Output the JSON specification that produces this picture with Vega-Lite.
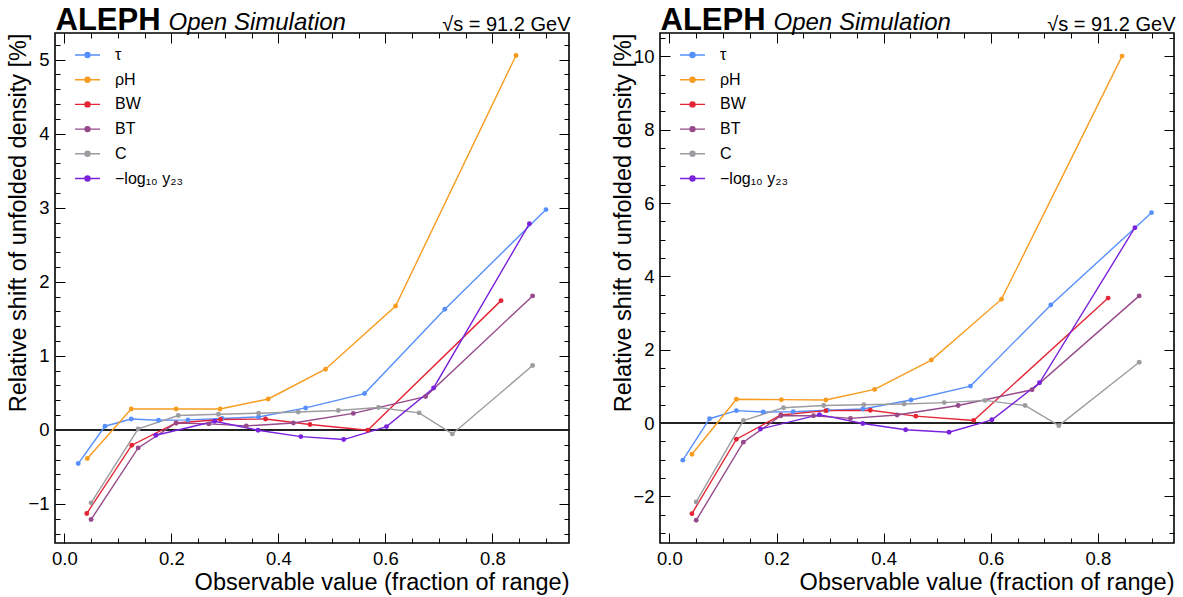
{
  "$schema": "https://vega.github.io/schema/vega-lite/v6.json",
  "padding": {"left": 5, "top": 4, "right": 5, "bottom": 2},
  "background": "white",
  "config": {
    "font": "Liberation Sans",
    "view": {"stroke": "#000", "strokeWidth": 1.6},
    "axis": {"domain": false, "grid": false, "tickColor": "#000", "tickWidth": 1, "labelColor": "#000", "titleColor": "#000", "labelFont": "Liberation Sans", "titleFont": "Liberation Sans", "labelFontSize": 18.5, "titleFontSize": 23.5, "titleFontWeight": "normal", "labelOverlap": false, "labelFlush": false},
    "legend": {"title": null, "orient": "none", "legendX": 19, "legendY": 8.5, "padding": 0, "labelFontSize": 16, "labelFont": "Liberation Sans", "labelColor": "#000", "symbolType": "M-1,0H1M-0.2,0A0.2,0.2 0 1,0 0.2,0A0.2,0.2 0 1,0 -0.2,0", "symbolSize": 625, "symbolStrokeWidth": 1.4, "labelOffset": 14, "rowPadding": 2.7}
  },
  "datasets": {
    "left": [
      {"s": "τ", "x": 0.026, "y": -0.454}, {"s": "τ", "x": 0.076, "y": 0.05}, {"s": "τ", "x": 0.125, "y": 0.148}, {"s": "τ", "x": 0.176, "y": 0.131}, {"s": "τ", "x": 0.231, "y": 0.135}, {"s": "τ", "x": 0.295, "y": 0.155}, {"s": "τ", "x": 0.363, "y": 0.175}, {"s": "τ", "x": 0.451, "y": 0.297}, {"s": "τ", "x": 0.561, "y": 0.491}, {"s": "τ", "x": 0.711, "y": 1.63}, {"s": "τ", "x": 0.9, "y": 2.975},
      {"s": "ρH", "x": 0.043, "y": -0.386}, {"s": "ρH", "x": 0.125, "y": 0.283}, {"s": "ρH", "x": 0.209, "y": 0.283}, {"s": "ρH", "x": 0.291, "y": 0.283}, {"s": "ρH", "x": 0.381, "y": 0.418}, {"s": "ρH", "x": 0.488, "y": 0.82}, {"s": "ρH", "x": 0.619, "y": 1.673}, {"s": "ρH", "x": 0.844, "y": 5.057},
      {"s": "BW", "x": 0.042, "y": -1.128}, {"s": "BW", "x": 0.126, "y": -0.206}, {"s": "BW", "x": 0.209, "y": 0.094}, {"s": "BW", "x": 0.292, "y": 0.14}, {"s": "BW", "x": 0.376, "y": 0.148}, {"s": "BW", "x": 0.459, "y": 0.073}, {"s": "BW", "x": 0.567, "y": -0.004}, {"s": "BW", "x": 0.816, "y": 1.746},
      {"s": "BT", "x": 0.05, "y": -1.21}, {"s": "BT", "x": 0.138, "y": -0.243}, {"s": "BT", "x": 0.209, "y": 0.094}, {"s": "BT", "x": 0.27, "y": 0.081}, {"s": "BT", "x": 0.34, "y": 0.054}, {"s": "BT", "x": 0.428, "y": 0.094}, {"s": "BT", "x": 0.54, "y": 0.223}, {"s": "BT", "x": 0.675, "y": 0.45}, {"s": "BT", "x": 0.875, "y": 1.81},
      {"s": "C", "x": 0.05, "y": -0.985}, {"s": "C", "x": 0.138, "y": 0.013}, {"s": "C", "x": 0.213, "y": 0.194}, {"s": "C", "x": 0.288, "y": 0.212}, {"s": "C", "x": 0.363, "y": 0.225}, {"s": "C", "x": 0.437, "y": 0.243}, {"s": "C", "x": 0.512, "y": 0.262}, {"s": "C", "x": 0.587, "y": 0.302}, {"s": "C", "x": 0.663, "y": 0.23}, {"s": "C", "x": 0.725, "y": -0.054}, {"s": "C", "x": 0.875, "y": 0.869},
      {"s": "−log₁₀ y₂₃", "x": 0.171, "y": -0.072}, {"s": "−log₁₀ y₂₃", "x": 0.281, "y": 0.117}, {"s": "−log₁₀ y₂₃", "x": 0.362, "y": -0.004}, {"s": "−log₁₀ y₂₃", "x": 0.442, "y": -0.09}, {"s": "−log₁₀ y₂₃", "x": 0.522, "y": -0.13}, {"s": "−log₁₀ y₂₃", "x": 0.602, "y": 0.045}, {"s": "−log₁₀ y₂₃", "x": 0.69, "y": 0.567}, {"s": "−log₁₀ y₂₃", "x": 0.869, "y": 2.785}
    ],
    "right": [
      {"s": "τ", "x": 0.025, "y": -1.01}, {"s": "τ", "x": 0.075, "y": 0.12}, {"s": "τ", "x": 0.125, "y": 0.34}, {"s": "τ", "x": 0.175, "y": 0.305}, {"s": "τ", "x": 0.231, "y": 0.31}, {"s": "τ", "x": 0.295, "y": 0.35}, {"s": "τ", "x": 0.361, "y": 0.385}, {"s": "τ", "x": 0.451, "y": 0.63}, {"s": "τ", "x": 0.562, "y": 1.01}, {"s": "τ", "x": 0.712, "y": 3.22}, {"s": "τ", "x": 0.9, "y": 5.74},
      {"s": "ρH", "x": 0.042, "y": -0.85}, {"s": "ρH", "x": 0.125, "y": 0.65}, {"s": "ρH", "x": 0.209, "y": 0.64}, {"s": "ρH", "x": 0.292, "y": 0.63}, {"s": "ρH", "x": 0.383, "y": 0.92}, {"s": "ρH", "x": 0.489, "y": 1.72}, {"s": "ρH", "x": 0.62, "y": 3.38}, {"s": "ρH", "x": 0.845, "y": 10.01},
      {"s": "BW", "x": 0.042, "y": -2.47}, {"s": "BW", "x": 0.125, "y": -0.44}, {"s": "BW", "x": 0.208, "y": 0.22}, {"s": "BW", "x": 0.292, "y": 0.34}, {"s": "BW", "x": 0.375, "y": 0.35}, {"s": "BW", "x": 0.46, "y": 0.19}, {"s": "BW", "x": 0.568, "y": 0.07}, {"s": "BW", "x": 0.819, "y": 3.41},
      {"s": "BT", "x": 0.05, "y": -2.65}, {"s": "BT", "x": 0.138, "y": -0.52}, {"s": "BT", "x": 0.208, "y": 0.2}, {"s": "BT", "x": 0.269, "y": 0.2}, {"s": "BT", "x": 0.338, "y": 0.13}, {"s": "BT", "x": 0.425, "y": 0.22}, {"s": "BT", "x": 0.539, "y": 0.48}, {"s": "BT", "x": 0.677, "y": 0.91}, {"s": "BT", "x": 0.877, "y": 3.47},
      {"s": "C", "x": 0.05, "y": -2.15}, {"s": "C", "x": 0.138, "y": 0.07}, {"s": "C", "x": 0.213, "y": 0.42}, {"s": "C", "x": 0.288, "y": 0.48}, {"s": "C", "x": 0.363, "y": 0.5}, {"s": "C", "x": 0.438, "y": 0.52}, {"s": "C", "x": 0.513, "y": 0.56}, {"s": "C", "x": 0.589, "y": 0.62}, {"s": "C", "x": 0.664, "y": 0.48}, {"s": "C", "x": 0.727, "y": -0.07}, {"s": "C", "x": 0.877, "y": 1.66},
      {"s": "−log₁₀ y₂₃", "x": 0.17, "y": -0.16}, {"s": "−log₁₀ y₂₃", "x": 0.28, "y": 0.23}, {"s": "−log₁₀ y₂₃", "x": 0.361, "y": -0.01}, {"s": "−log₁₀ y₂₃", "x": 0.441, "y": -0.18}, {"s": "−log₁₀ y₂₃", "x": 0.522, "y": -0.25}, {"s": "−log₁₀ y₂₃", "x": 0.602, "y": 0.09}, {"s": "−log₁₀ y₂₃", "x": 0.691, "y": 1.1}, {"s": "−log₁₀ y₂₃", "x": 0.869, "y": 5.33}
    ]
  },
  "spacing": 91,
  "bounds": "flush",
  "resolve": {"legend": {"color": "independent"}},
  "hconcat": [
    {
      "width": 514, "height": 510,
      "data": {"name": "left"},
      "resolve": {"axis": {"x": "independent", "y": "independent"}},
      "layer": [
        {
          "mark": {"type": "rule", "color": "#222", "strokeWidth": 1.2},
          "encoding": {"y": {"datum": 0, "type": "quantitative", "scale": {"domain": [-1.527, 5.36], "nice": false, "zero": false}, "axis": null}}
        },
        {
          "mark": {"type": "line", "strokeWidth": 1.4, "point": {"filled": true, "size": 24}},
          "encoding": {
            "x": {"field": "x", "type": "quantitative", "scale": {"domain": [-0.0174, 0.943], "nice": false, "zero": false},
              "axis": {"orient": "bottom", "values": [0,0.05,0.1,0.15,0.2,0.25,0.3,0.35,0.4,0.45,0.5,0.55,0.6,0.65,0.7,0.75,0.8,0.85,0.9],
                "tickSize": {"condition": {"test": "abs(datum.value*5-round(datum.value*5))<0.001", "value": -10}, "value": -5},
                "labelExpr": "abs(datum.value*5-round(datum.value*5))<0.001 ? format(datum.value,'.1f') : ''",
                "labelPadding": 16,
                "title": "Observable value (fraction of range)", "titleX": 514, "titleY": 46, "titleAlign": "right", "titleBaseline": "alphabetic"}},
            "y": {"field": "y", "type": "quantitative", "scale": {"domain": [-1.527, 5.36], "nice": false, "zero": false},
              "axis": {"orient": "left", "values": [-1.4,-1.2,-1,-0.8,-0.6,-0.4,-0.2,0,0.2,0.4,0.6,0.8,1,1.2,1.4,1.6,1.8,2,2.2,2.4,2.6,2.8,3,3.2,3.4,3.6,3.8,4,4.2,4.4,4.6,4.8,5,5.2],
                "tickSize": {"condition": {"test": "abs(datum.value-round(datum.value))<0.001", "value": -10}, "value": -5},
                "labelExpr": "abs(datum.value-round(datum.value))<0.001 ? format(datum.value,'d') : ''",
                "labelPadding": 16,
                "title": "Relative shift of unfolded density [%]", "titleAngle": 270, "titleX": -30, "titleY": 0, "titleAlign": "right", "titleBaseline": "alphabetic"}},
            "color": {"field": "s", "type": "nominal",
              "scale": {"domain": ["τ", "ρH", "BW", "BT", "C", "−log₁₀ y₂₃"], "range": ["#5790fc", "#f89c20", "#e42536", "#964a8b", "#9c9ca1", "#7a21dd"]},
              "legend": {"encode": {"symbols": {"update": {"fill": {"scale": "color", "field": "value"}}}}}}
          }
        },
        {
          "mark": {"type": "point", "opacity": 0},
          "encoding": {
            "x": {"field": "x", "type": "quantitative", "scale": {"domain": [-0.0174, 0.943], "nice": false, "zero": false},
              "axis": {"orient": "top", "values": [0,0.05,0.1,0.15,0.2,0.25,0.3,0.35,0.4,0.45,0.5,0.55,0.6,0.65,0.7,0.75,0.8,0.85,0.9],
                "tickSize": {"condition": {"test": "abs(datum.value*5-round(datum.value*5))<0.001", "value": -10}, "value": -5},
                "labels": false,
                "title": "Open Simulation", "titleFontStyle": "italic", "titleFontSize": 24, "titleX": 113, "titleY": -3.2, "titleAlign": "left", "titleBaseline": "alphabetic"}},
            "y": {"field": "y", "type": "quantitative", "scale": {"domain": [-1.527, 5.36], "nice": false, "zero": false},
              "axis": {"orient": "right", "values": [-1.4,-1.2,-1,-0.8,-0.6,-0.4,-0.2,0,0.2,0.4,0.6,0.8,1,1.2,1.4,1.6,1.8,2,2.2,2.4,2.6,2.8,3,3.2,3.4,3.6,3.8,4,4.2,4.4,4.6,4.8,5,5.2],
                "tickSize": {"condition": {"test": "abs(datum.value-round(datum.value))<0.001", "value": -10}, "value": -5},
                "labels": false,
                "title": "√s = 91.2 GeV", "titleAngle": 0, "titleFontSize": 20, "titleX": 1, "titleY": -2.1, "titleAlign": "right", "titleBaseline": "alphabetic"}}
          }
        },
        {
          "mark": {"type": "point", "opacity": 0},
          "encoding": {
            "x": {"field": "x", "type": "quantitative", "scale": {"domain": [-0.0174, 0.943], "nice": false, "zero": false},
              "axis": {"orient": "top", "ticks": false, "labels": false,
                "title": "ALEPH", "titleFontWeight": "bold", "titleFontSize": 31, "titleX": 0, "titleY": -3.2, "titleAlign": "left", "titleBaseline": "alphabetic"}}
          }
        }
      ]
    },
    {
      "width": 514, "height": 510,
      "data": {"name": "right"},
      "resolve": {"axis": {"x": "independent", "y": "independent"}},
      "layer": [
        {
          "mark": {"type": "rule", "color": "#222", "strokeWidth": 1.2},
          "encoding": {"y": {"datum": 0, "type": "quantitative", "scale": {"domain": [-3.27, 10.64], "nice": false, "zero": false}, "axis": null}}
        },
        {
          "mark": {"type": "line", "strokeWidth": 1.4, "point": {"filled": true, "size": 24}},
          "encoding": {
            "x": {"field": "x", "type": "quantitative", "scale": {"domain": [-0.0176, 0.942], "nice": false, "zero": false},
              "axis": {"orient": "bottom", "values": [0,0.05,0.1,0.15,0.2,0.25,0.3,0.35,0.4,0.45,0.5,0.55,0.6,0.65,0.7,0.75,0.8,0.85,0.9],
                "tickSize": {"condition": {"test": "abs(datum.value*5-round(datum.value*5))<0.001", "value": -10}, "value": -5},
                "labelExpr": "abs(datum.value*5-round(datum.value*5))<0.001 ? format(datum.value,'.1f') : ''",
                "labelPadding": 16,
                "title": "Observable value (fraction of range)", "titleX": 514, "titleY": 46, "titleAlign": "right", "titleBaseline": "alphabetic"}},
            "y": {"field": "y", "type": "quantitative", "scale": {"domain": [-3.27, 10.64], "nice": false, "zero": false},
              "axis": {"orient": "left", "values": [-3,-2.5,-2,-1.5,-1,-0.5,0,0.5,1,1.5,2,2.5,3,3.5,4,4.5,5,5.5,6,6.5,7,7.5,8,8.5,9,9.5,10,10.5],
                "tickSize": {"condition": {"test": "abs(datum.value/2-round(datum.value/2))<0.001", "value": -10}, "value": -5},
                "labelExpr": "abs(datum.value/2-round(datum.value/2))<0.001 ? format(datum.value,'d') : ''",
                "labelPadding": 16,
                "title": "Relative shift of unfolded density [%]", "titleAngle": 270, "titleX": -30, "titleY": 0, "titleAlign": "right", "titleBaseline": "alphabetic"}},
            "color": {"field": "s", "type": "nominal",
              "scale": {"domain": ["τ", "ρH", "BW", "BT", "C", "−log₁₀ y₂₃"], "range": ["#5790fc", "#f89c20", "#e42536", "#964a8b", "#9c9ca1", "#7a21dd"]},
              "legend": {"encode": {"symbols": {"update": {"fill": {"scale": "color", "field": "value"}}}}}}
          }
        },
        {
          "mark": {"type": "point", "opacity": 0},
          "encoding": {
            "x": {"field": "x", "type": "quantitative", "scale": {"domain": [-0.0176, 0.942], "nice": false, "zero": false},
              "axis": {"orient": "top", "values": [0,0.05,0.1,0.15,0.2,0.25,0.3,0.35,0.4,0.45,0.5,0.55,0.6,0.65,0.7,0.75,0.8,0.85,0.9],
                "tickSize": {"condition": {"test": "abs(datum.value*5-round(datum.value*5))<0.001", "value": -10}, "value": -5},
                "labels": false,
                "title": "Open Simulation", "titleFontStyle": "italic", "titleFontSize": 24, "titleX": 113, "titleY": -3.2, "titleAlign": "left", "titleBaseline": "alphabetic"}},
            "y": {"field": "y", "type": "quantitative", "scale": {"domain": [-3.27, 10.64], "nice": false, "zero": false},
              "axis": {"orient": "right", "values": [-3,-2.5,-2,-1.5,-1,-0.5,0,0.5,1,1.5,2,2.5,3,3.5,4,4.5,5,5.5,6,6.5,7,7.5,8,8.5,9,9.5,10,10.5],
                "tickSize": {"condition": {"test": "abs(datum.value/2-round(datum.value/2))<0.001", "value": -10}, "value": -5},
                "labels": false,
                "title": "√s = 91.2 GeV", "titleAngle": 0, "titleFontSize": 20, "titleX": 1, "titleY": -2.1, "titleAlign": "right", "titleBaseline": "alphabetic"}}
          }
        },
        {
          "mark": {"type": "point", "opacity": 0},
          "encoding": {
            "x": {"field": "x", "type": "quantitative", "scale": {"domain": [-0.0176, 0.942], "nice": false, "zero": false},
              "axis": {"orient": "top", "ticks": false, "labels": false,
                "title": "ALEPH", "titleFontWeight": "bold", "titleFontSize": 31, "titleX": 0, "titleY": -3.2, "titleAlign": "left", "titleBaseline": "alphabetic"}}
          }
        }
      ]
    }
  ]
}
